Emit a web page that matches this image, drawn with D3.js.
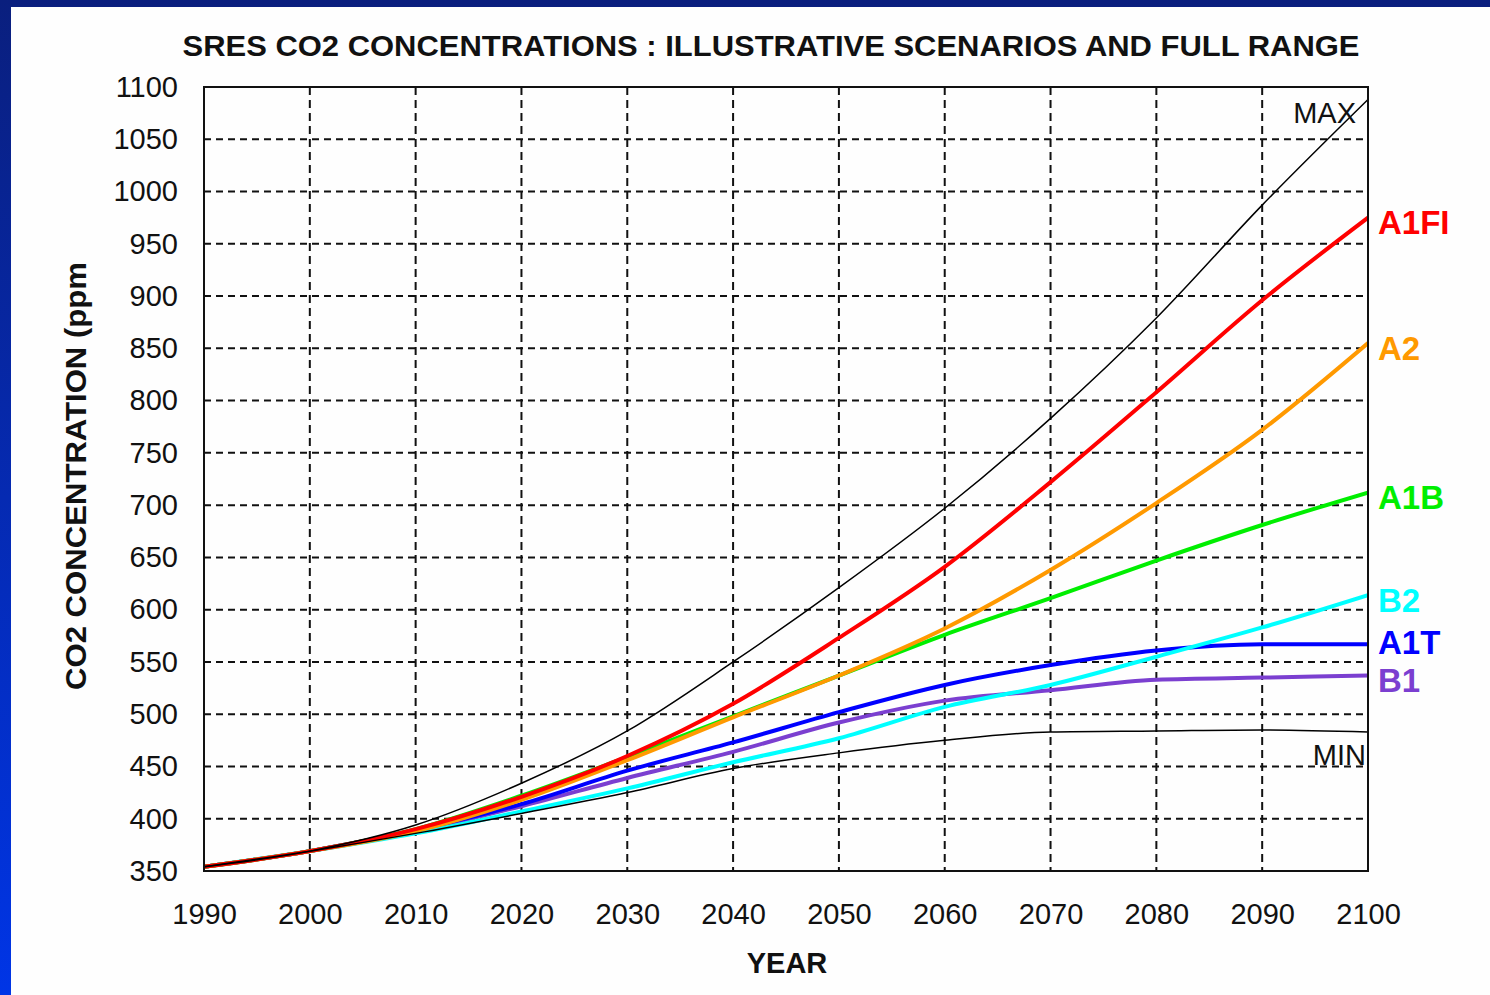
<!DOCTYPE html>
<html>
<head>
<meta charset="utf-8">
<script src="https://cdn.jsdelivr.net/npm/d3@7"></script>
<style>
html,body{margin:0;padding:0;background:#fff;}
svg{display:block;}
text{font-family:"Liberation Sans",Arial,sans-serif;}
</style>
</head>
<body>
<svg id="chart" width="1490" height="995"></svg>
<script>
const years = [1990,2000,2010,2020,2030,2040,2050,2060,2070,2080,2090,2100];
const A1FI = [354,369,390,421,460,510,573,641,722,808,896,975];
const A2   = [354,369,388,418,456,497,537,582,638,702,772,855];
const A1B  = [354,369,390,422,459,498,537,576,611,647,681,712];
const B2   = [354,369,386,407,429,454,477,507,528,555,583,614];
const A1T  = [354,369,389,414,446,473,502,528,547,561,567,567];
const B1   = [354,369,388,412,439,464,492,513,523,533,535,537];
const MAX  = [354,369,394,434,484,550,621,697,783,879,987,1088];
const MIN  = [354,369,386,405,425,448,463,475,483,484,485,483];

const xTicks = [1990,2000,2010,2020,2030,2040,2050,2060,2070,2080,2090,2100];
const yTicks = [350,400,450,500,550,600,650,700,750,800,850,900,950,1000,1050,1100];

const titleText = "SRES CO2 CONCENTRATIONS : ILLUSTRATIVE SCENARIOS AND FULL RANGE";
const yLabelText = "CO2 CONCENTRATION  (ppm";
const xLabelText = "YEAR";

const scenarios = [
  {name:"B1",   values:B1,   color:"#7b3fd0"},
  {name:"A1T",  values:A1T,  color:"#0000ff"},
  {name:"B2",   values:B2,   color:"#00ffff"},
  {name:"A1B",  values:A1B,  color:"#00ee00"},
  {name:"A2",   values:A2,   color:"#ff9900"},
  {name:"A1FI", values:A1FI, color:"#ff0000"}
];
const bounds = [
  {name:"MAX", values:MAX},
  {name:"MIN", values:MIN}
];

const svg = d3.select("#chart");
const W = 1490, H = 995;

// background frame
const defs = svg.append("defs");
const grad = defs.append("linearGradient").attr("id","bg").attr("x1",0).attr("y1",0).attr("x2",0).attr("y2",1);
grad.append("stop").attr("offset","0%").attr("stop-color","#0a1f7e");
grad.append("stop").attr("offset","100%").attr("stop-color","#0035e6");
svg.append("rect").attr("x",0).attr("y",0).attr("width",W).attr("height",H).attr("fill","url(#bg)");
svg.append("rect").attr("x",11).attr("y",7).attr("width",W-11).attr("height",H-7).attr("fill","#fefefe");

const m = {left:204, right:1368, top:87, bottom:871};
const x = d3.scaleLinear().domain([1990,2100]).range([m.left,m.right]);
const y = d3.scaleLinear().domain([350,1100]).range([m.bottom,m.top]);

const clipId = "plotclip";
defs.append("clipPath").attr("id",clipId).append("rect")
  .attr("x",m.left).attr("y",m.top).attr("width",m.right-m.left).attr("height",m.bottom-m.top);

// grid
const grid = svg.append("g");
grid.selectAll("line.h").data(yTicks.filter(v=>v>350 && v<1100)).enter().append("line")
  .attr("x1",m.left).attr("x2",m.right).attr("y1",d=>y(d)).attr("y2",d=>y(d))
  .attr("stroke","#111").attr("stroke-width",2).attr("stroke-dasharray","7,5");
grid.selectAll("line.v").data(xTicks.filter(v=>v>1990 && v<2100)).enter().append("line")
  .attr("y1",m.top).attr("y2",m.bottom).attr("x1",d=>x(d)).attr("x2",d=>x(d))
  .attr("stroke","#111").attr("stroke-width",2).attr("stroke-dasharray","8,5");

// axes (labels only, using d3 axes)
const yAxis = d3.axisLeft(y).tickValues(yTicks).tickSize(0).tickPadding(26).tickFormat(d3.format("d"));
const gy = svg.append("g").attr("transform",`translate(${m.left},0)`).call(yAxis);
gy.select(".domain").remove();
gy.selectAll("text").attr("font-size",29).attr("fill","#111").attr("font-family","'Liberation Sans',Arial,sans-serif");

const xAxis = d3.axisBottom(x).tickValues(xTicks).tickSize(0).tickPadding(32).tickFormat(d3.format("d"));
const gx = svg.append("g").attr("transform",`translate(0,${m.bottom})`).call(xAxis);
gx.select(".domain").remove();
gx.selectAll("text").attr("font-size",29).attr("fill","#111").attr("font-family","'Liberation Sans',Arial,sans-serif");

// lines
const line = d3.line().x((d,i)=>x(years[i])).y(d=>y(d)).curve(d3.curveMonotoneX);
const plot = svg.append("g").attr("clip-path",`url(#${clipId})`);
plot.selectAll("path.sc").data(scenarios).enter().append("path")
  .attr("d",d=>line(d.values)).attr("fill","none")
  .attr("stroke",d=>d.color).attr("stroke-width",4).attr("stroke-linejoin","round");
plot.selectAll("path.bd").data(bounds).enter().append("path")
  .attr("d",d=>line(d.values)).attr("fill","none")
  .attr("stroke","#000").attr("stroke-width",1.5);

// border
svg.append("rect").attr("x",m.left).attr("y",m.top).attr("width",m.right-m.left).attr("height",m.bottom-m.top)
  .attr("fill","none").attr("stroke","#111").attr("stroke-width",2);

// scenario labels with simple collision avoidance (bottom-up)
const minGap = 38;
const labelPos = scenarios.map(d=>({d, ly: y(d.values[d.values.length-1]) + 5}))
  .sort((a,b)=>b.ly-a.ly);
for (let i=1;i<labelPos.length;i++){
  if (labelPos[i-1].ly - labelPos[i].ly < minGap) labelPos[i].ly = labelPos[i-1].ly - minGap;
}
svg.selectAll("text.sl").data(labelPos).enter().append("text")
  .attr("x",m.right+10).attr("y",p=>p.ly)
  .attr("dominant-baseline","central")
  .attr("font-size",33).attr("font-weight","bold").attr("fill",p=>p.d.color)
  .text(p=>p.d.name);

// MAX / MIN labels
svg.append("text").attr("x",m.right-12).attr("y",123).attr("text-anchor","end")
  .attr("font-size",29).attr("fill","#111").text("MAX");
svg.append("text").attr("x",m.right-2).attr("y",765).attr("text-anchor","end")
  .attr("font-size",29).attr("fill","#111").text("MIN");

// titles
svg.append("text").attr("x",771).attr("y",56).attr("text-anchor","middle")
  .attr("font-size",29).attr("font-weight","bold").attr("fill","#111")
  .attr("textLength",1177).attr("lengthAdjust","spacingAndGlyphs").text(titleText);
svg.append("text").attr("transform","translate(86,476) rotate(-90)").attr("text-anchor","middle")
  .attr("font-size",29).attr("font-weight","bold").attr("fill","#111")
  .attr("textLength",428).attr("lengthAdjust","spacingAndGlyphs").text(yLabelText);
svg.append("text").attr("x",787).attr("y",973).attr("text-anchor","middle")
  .attr("font-size",29).attr("font-weight","bold").attr("fill","#111").text(xLabelText);
</script>
</body>
</html>
